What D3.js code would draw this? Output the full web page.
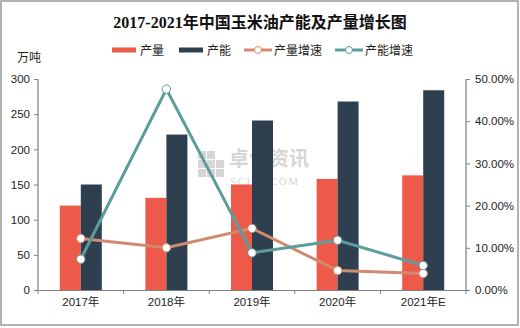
<!DOCTYPE html>
<html><head><meta charset="utf-8">
<script src="https://cdn.jsdelivr.net/npm/d3@7/dist/d3.min.js"></script>
<style>body{margin:0;background:#fff}svg{display:block}</style>
</head><body>
<svg id="c" width="520" height="328"></svg>
<script>
const categories = ["2017年","2018年","2019年","2020年","2021年E"];
const output = [120, 131, 150, 158, 163];
const capacity = [150, 221, 241, 268, 284];
const outputGrowth = [12.2, 10.0, 14.6, 4.6, 3.9];
const capacityGrowth = [7.3, 47.6, 8.8, 11.8, 5.8];
const leftTicks = [0, 50, 100, 150, 200, 250, 300];
const rightTicks = [0, 10, 20, 30, 40, 50];

const svg = d3.select("#c");
const W = 520, H = 328;
const m = {l: 38, r: 466, t: 79, b: 290};
const fontAxis = "'Liberation Sans','Noto Sans CJK SC',sans-serif";
const C = {red:"#ee5a4a", dark:"#2e4050", tan:"#d08a70", teal:"#5e9c9c", axis:"#808080"};

svg.append("rect").attr("x",1).attr("y",1).attr("width",W-3).attr("height",H-4)
  .attr("fill","#fff").attr("stroke","#999").attr("stroke-width",1.5);

const x = d3.scaleBand().domain(categories).range([m.l, m.r]);
const y = d3.scaleLinear().domain([0,300]).range([m.b, m.t]);
const y2 = d3.scaleLinear().domain([0,50]).range([m.b, m.t]);
const bw = 21;

// watermark
const wm = svg.append("g").attr("fill","#d6d6d6");
[[0,0],[9,0],[0,9],[9,9],[18,9],[0,18],[9,18],[18,18]].forEach(([dx,dy])=>{
  wm.append("rect").attr("x",198+dx).attr("y",151+dy).attr("width",8).attr("height",8);
});
wm.append("text").attr("x",229).attr("y",166).attr("font-size",20).attr("font-weight","bold")
  .attr("font-family","'Noto Sans CJK SC',sans-serif").text("卓创资讯");
wm.append("text").attr("x",230).attr("y",185).attr("font-size",11)
  .attr("font-family","'Liberation Serif',serif").attr("letter-spacing",1.5).text("SCI99.COM");

// bars
svg.append("g").selectAll("rect").data(output).join("rect")
  .attr("x",(d,i)=>x(categories[i])+x.bandwidth()/2-bw)
  .attr("y",d=>y(d)).attr("width",bw).attr("height",d=>m.b-y(d)).attr("fill",C.red);
svg.append("g").selectAll("rect").data(capacity).join("rect")
  .attr("x",(d,i)=>x(categories[i])+x.bandwidth()/2)
  .attr("y",d=>y(d)).attr("width",bw).attr("height",d=>m.b-y(d)).attr("fill",C.dark);

// axes
const gl = svg.append("g").attr("transform",`translate(${m.l},0)`)
  .call(d3.axisLeft(y).tickValues(leftTicks).tickSize(4).tickPadding(4));
const gr = svg.append("g").attr("transform",`translate(${m.r},0)`)
  .call(d3.axisRight(y2).tickValues(rightTicks).tickSize(4).tickPadding(5).tickFormat(d=>d.toFixed(2)+"%"));
const gx = svg.append("g").attr("transform",`translate(0,${m.b})`)
  .call(d3.axisBottom(x).tickSize(0).tickPadding(8));
// category boundary ticks
svg.append("g").selectAll("line").data(d3.range(categories.length+1)).join("line")
  .attr("x1",i=>m.l+i*x.step()).attr("x2",i=>m.l+i*x.step())
  .attr("y1",m.b).attr("y2",m.b+4).attr("stroke",C.axis);
[gl,gr,gx].forEach(g=>{
  g.selectAll(".domain").attr("stroke",C.axis).attr("stroke-width",1.2);
  g.selectAll(".tick line").attr("stroke",C.axis);
  g.selectAll("text").attr("font-family",fontAxis).attr("font-size",11.5).attr("fill","#222");
});
gl.select(".domain").attr("d",`M0,${m.t}V${m.b}`);
gr.select(".domain").attr("d",`M0,${m.t}V${m.b}`);

// lines
function drawLine(vals,color){
  const line = d3.line().x((d,i)=>x(categories[i])+x.bandwidth()/2).y(d=>y2(d));
  svg.append("path").datum(vals).attr("d",line).attr("fill","none")
    .attr("stroke",color).attr("stroke-width",3);
  svg.append("g").selectAll("circle").data(vals).join("circle")
    .attr("cx",(d,i)=>x(categories[i])+x.bandwidth()/2).attr("cy",d=>y2(d))
    .attr("r",4.2).attr("fill","#fff").attr("stroke",color).attr("stroke-width",1);
}
drawLine(outputGrowth,C.tan);
drawLine(capacityGrowth,C.teal);

// title
svg.append("text").attr("x",260).attr("y",28).attr("text-anchor","middle")
  .attr("font-size",16).attr("font-weight","bold")
  .attr("font-family","'Liberation Serif','Noto Sans CJK SC',serif").attr("fill","#111")
  .text("2017-2021年中国玉米油产能及产量增长图");

// unit
svg.append("text").attr("x",17).attr("y",62).attr("font-size",12)
  .attr("font-family","'Noto Sans CJK SC',sans-serif").attr("fill","#222").text("万吨");

// legend
const legend = [
  {name:"产量", color:C.red, type:"bar", x:112},
  {name:"产能", color:C.dark, type:"bar", x:179},
  {name:"产量增速", color:C.tan, type:"line", x:244},
  {name:"产能增速", color:C.teal, type:"line", x:335}
];
const lg = svg.append("g");
legend.forEach(l=>{
  const g = lg.append("g").attr("transform",`translate(${l.x},50)`);
  if(l.type==="bar"){
    g.append("rect").attr("x",0).attr("y",-2.5).attr("width",24).attr("height",5).attr("fill",l.color);
  } else {
    g.append("line").attr("x1",0).attr("x2",28).attr("y1",0).attr("y2",0).attr("stroke",l.color).attr("stroke-width",3);
    g.append("circle").attr("cx",14).attr("cy",0).attr("r",3.5).attr("fill","#fff").attr("stroke",l.color).attr("stroke-width",1);
  }
  g.append("text").attr("x",l.type==="bar"?28:30).attr("y",4.5).attr("font-size",12)
    .attr("font-family","'Noto Sans CJK SC',sans-serif").attr("fill","#222").text(l.name);
});
</script>
</body></html>
